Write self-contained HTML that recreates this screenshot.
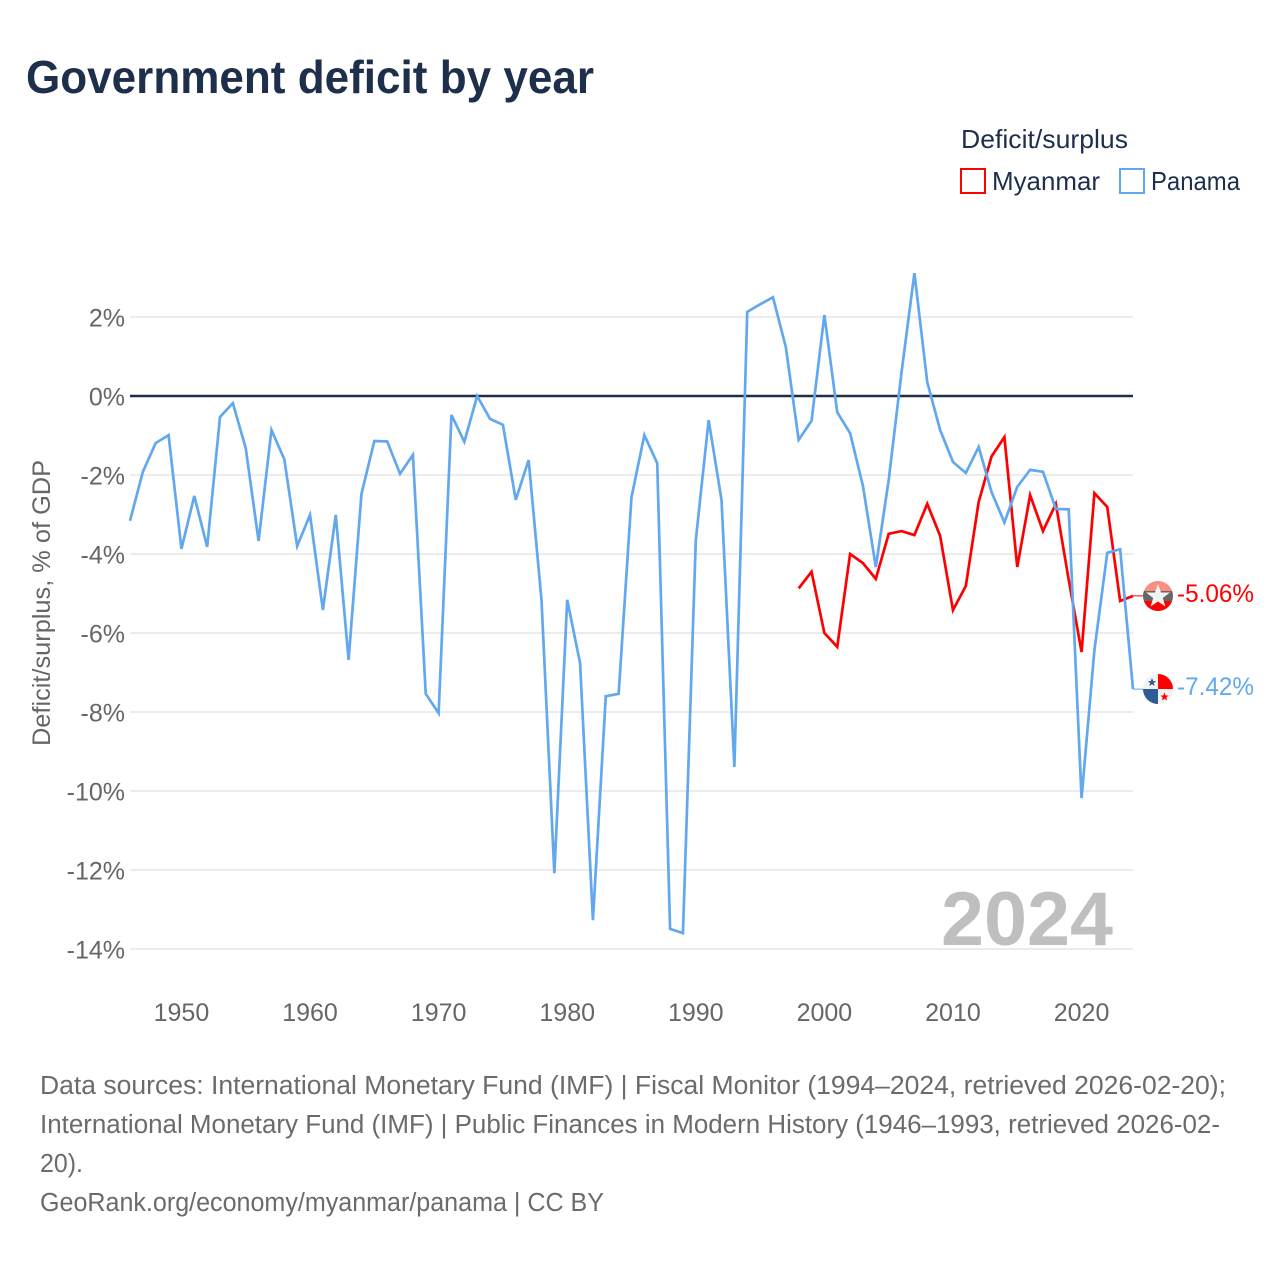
<!DOCTYPE html>
<html lang="en">
<head>
<meta charset="utf-8">
<title>Government deficit by year</title>
<style>
html,body{margin:0;padding:0;background:#fff;width:1280px;height:1280px;overflow:hidden}
svg{display:block;font-family:"Liberation Sans",sans-serif}
</style>
</head>
<body>
<svg id="chart" xmlns="http://www.w3.org/2000/svg" width="1280" height="1280" viewBox="0 0 1280 1280">
  <defs>
    <clipPath id="flag-clip-a"><circle cx="1158" cy="596" r="15"/></clipPath>
    <clipPath id="flag-clip-b"><circle cx="1158" cy="689" r="15"/></clipPath>
  </defs>
  <text x="26" y="93" font-size="46" font-weight="700" fill="#1d2f4b" textLength="568" lengthAdjust="spacingAndGlyphs">Government deficit by year</text>

  <g>
    <text x="961" y="148" font-size="26" fill="#1d2f4b" textLength="167" lengthAdjust="spacingAndGlyphs">Deficit/surplus</text>
    <g>
      <rect x="961" y="169" width="24" height="24" fill="none" stroke="#ff0000" stroke-width="2"/>
      <text x="992" y="190" font-size="26" fill="#1d2f4b" textLength="108" lengthAdjust="spacingAndGlyphs">Myanmar</text>
    </g>
    <g>
      <rect x="1120" y="169" width="24" height="24" fill="none" stroke="#61a8ee" stroke-width="2"/>
      <text x="1151" y="190" font-size="26" fill="#1d2f4b" textLength="89" lengthAdjust="spacingAndGlyphs">Panama</text>
    </g>
  </g>

  <text transform="translate(50,603) rotate(-90)" text-anchor="middle" font-size="25" fill="#666666" textLength="286" lengthAdjust="spacingAndGlyphs">Deficit/surplus, % of GDP</text>

  <g id="grid"></g>
  <g id="y-ticks"></g>
  <g id="x-ticks"></g>

  <text x="941" y="945" font-size="76" font-weight="700" fill="#bfbfbf" textLength="172" lengthAdjust="spacingAndGlyphs">2024</text>

  <g id="series"></g>

  <g clip-path="url(#flag-clip-a)">
    <rect x="1143" y="581" width="30" height="10" fill="#f88f7f"/>
    <rect x="1143" y="591" width="30" height="10" fill="#666666"/>
    <rect x="1143" y="601" width="30" height="10" fill="#ff0000"/>
    <polygon points="1158,584 1161,592.500 1170,592.500 1162.800,598 1165.400,606.500 1158,601.500 1150.600,606.500 1153.200,598 1146,592.500 1155,592.500" fill="#f2f2f2"/>
  </g>
  <g clip-path="url(#flag-clip-b)">
    <rect x="1143" y="674" width="30" height="30" fill="#f2f2f2"/>
    <rect x="1158" y="674" width="15" height="15" fill="#ff0000"/>
    <rect x="1143" y="689" width="15" height="15" fill="#2f5b97"/>
    <polygon points="1152,678 1153.200,681 1156,681 1153.800,683 1154.600,686 1152,684.200 1149.400,686 1150.200,683 1148,681 1150.800,681" fill="#2f5b97"/>
    <polygon points="1164.500,692.500 1165.700,695.500 1168.500,695.500 1166.300,697.500 1167.100,700.500 1164.500,698.700 1161.900,700.500 1162.700,697.500 1160.500,695.500 1163.300,695.500" fill="#ff0000"/>
  </g>
  <text id="label-myanmar" x="1177" y="602" font-size="25" fill="#ff0000" textLength="77" lengthAdjust="spacingAndGlyphs"></text>
  <text id="label-panama" x="1177" y="695" font-size="25" fill="#61a8ee" textLength="77" lengthAdjust="spacingAndGlyphs"></text>

  <g font-size="25.500" fill="#6b6b6b">
    <text x="40" y="1094" textLength="1186" lengthAdjust="spacingAndGlyphs">Data sources: International Monetary Fund (IMF) | Fiscal Monitor (1994–2024, retrieved 2026-02-20);</text>
    <text x="40" y="1133" textLength="1180" lengthAdjust="spacingAndGlyphs">International Monetary Fund (IMF) | Public Finances in Modern History (1946–1993, retrieved 2026-02-</text>
    <text x="40" y="1172" textLength="43" lengthAdjust="spacingAndGlyphs">20).</text>
    <text x="40" y="1211" textLength="564" lengthAdjust="spacingAndGlyphs">GeoRank.org/economy/myanmar/panama | CC BY</text>
  </g>
</svg>
<script>
const yTickValues = [2, 0, -2, -4, -6, -8, -10, -12, -14];
const xTickYears = [1950, 1960, 1970, 1980, 1990, 2000, 2010, 2020];
const panamaStartYear = 1946;
const panamaValues = [-3.16,-1.92,-1.19,-0.99,-3.87,-2.53,-3.82,-0.53,-0.18,-1.32,-3.67,-0.86,-1.6,-3.8,-3.01,-5.42,-3.01,-6.68,-2.48,-1.14,-1.15,-1.97,-1.49,-7.54,-8.03,-0.48,-1.16,0,-0.58,-0.73,-2.63,-1.62,-5.16,-12.08,-5.16,-6.76,-13.27,-7.6,-7.54,-2.56,-0.99,-1.7,-13.49,-13.6,-3.65,-0.61,-2.63,-9.39,2.13,2.32,2.5,1.24,-1.11,-0.63,2.05,-0.41,-0.94,-2.28,-4.33,-2.13,0.6,3.11,0.35,-0.86,-1.67,-1.95,-1.29,-2.43,-3.2,-2.3,-1.87,-1.92,-2.86,-2.87,-10.18,-6.43,-3.97,-3.88,-7.42];
const myanmarStartYear = 1998;
const myanmarValues = [-4.87,-4.45,-6.0,-6.35,-4.0,-4.23,-4.63,-3.49,-3.42,-3.52,-2.73,-3.54,-5.42,-4.81,-2.68,-1.53,-1.04,-4.33,-2.51,-3.42,-2.73,-4.65,-6.48,-2.46,-2.81,-5.19,-5.06];

const SVG_NS = 'http://www.w3.org/2000/svg';
const xScale = year => 130 + (year - 1946) * (1133 - 130) / (2024 - 1946);
const yScale = value => 396 - value * 39.5;
const make = (tag, attrs, parent) => {
  const el = document.createElementNS(SVG_NS, tag);
  for (const k in attrs) el.setAttribute(k, attrs[k]);
  parent.appendChild(el);
  return el;
};
const grid = document.getElementById('grid');
const yTicks = document.getElementById('y-ticks');
const xTicks = document.getElementById('x-ticks');
const series = document.getElementById('series');

yTickValues.forEach(v => {
  const y = yScale(v);
  const line = make('line', {x1: 130, x2: 1133, y1: y, y2: y, stroke: v === 0 ? '#1d2f4b' : '#e6e6e6', 'stroke-width': v === 0 ? 2.4 : 1.4}, grid);
  
  
  const label = make('text', {x: 125, y: y + 9.5, 'text-anchor': 'end', 'font-size': 25, fill: '#666666'}, yTicks);
  label.textContent = v + '%';
  
  
});

xTickYears.forEach(year => {
  const label = make('text', {x: xScale(year), y: 1021, 'text-anchor': 'middle', 'font-size': 25, fill: '#666666'}, xTicks);
  label.textContent = String(year);
  
  
});

const pathFor = (startYear, values) =>
  values.map((v, i) => (i ? 'L' : 'M') + xScale(startYear + i).toFixed(2) + ' ' + yScale(v).toFixed(2)).join(' ');

const redLine = make('path', {d: pathFor(myanmarStartYear, myanmarValues), fill: 'none', stroke: '#ff0000', 'stroke-width': 2.7, 'stroke-linejoin': 'miter'}, series);


const blueLine = make('path', {d: pathFor(panamaStartYear, panamaValues), fill: 'none', stroke: '#61a8ee', 'stroke-width': 2.7, 'stroke-linejoin': 'miter'}, series);



const lastRed = myanmarValues[myanmarValues.length - 1];
const lastBlue = panamaValues[panamaValues.length - 1];
const redConnector = make('line', {x1: 1133, x2: 1144, y1: yScale(lastRed), y2: yScale(lastRed), stroke: '#ff0000', 'stroke-width': 1}, series);


const blueConnector = make('line', {x1: 1133, x2: 1144, y1: yScale(lastBlue), y2: yScale(lastBlue), stroke: '#61a8ee', 'stroke-width': 1}, series);



document.getElementById('label-myanmar').textContent = lastRed.toFixed(2) + '%';
document.getElementById('label-panama').textContent = lastBlue.toFixed(2) + '%';
</script>
</body>
</html>
